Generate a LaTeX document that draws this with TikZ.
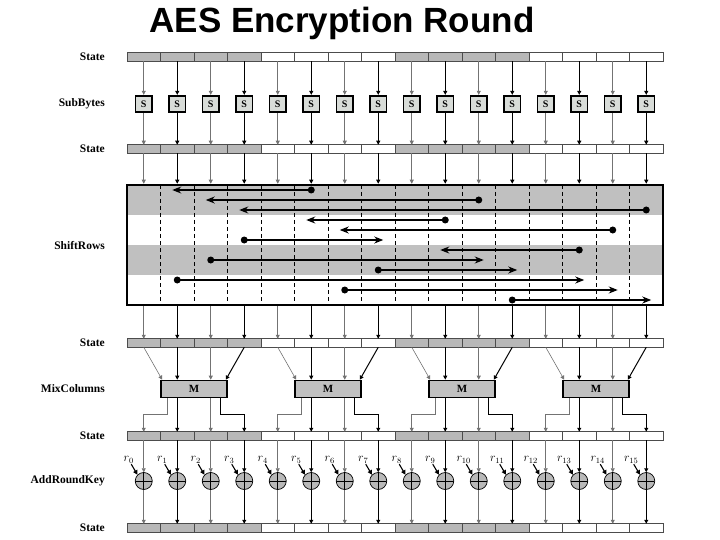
\documentclass[tikz,border=0pt]{standalone}
\usepackage{fontspec}
\setmainfont{Liberation Serif}
\newfontfamily\titlefont{Liberation Sans}
\usetikzlibrary{arrows.meta}

\definecolor{cellgray}{HTML}{B8B8B8}
\definecolor{sboxgray}{HTML}{D8DCD8}
\definecolor{boxgray}{HTML}{C0C0C0}

% one row of 16 state bytes: name, y
\newcommand{\statebar}[2]{%
  \foreach \i in {0,...,15}{
    \pgfmathtruncatemacro{\grp}{mod(int(\i/4),2)}
    \ifnum\grp=0 \def\cellfill{cellgray}\else\def\cellfill{white}\fi
    \node[cell, fill=\cellfill] (#1-\i) at ({143.75+33.5*\i},#2) {};
  }%
}

\begin{document}
\begin{tikzpicture}[
    x=1pt, y=-1pt,
    cell/.style={draw=black!70, line width=0.6pt, minimum width=33.5pt, minimum height=8.5pt, inner sep=0pt, outer sep=0pt},
    lbl/.style={font=\bfseries\fontsize{11.5}{11.5}\selectfont, anchor=east, inner sep=0pt},
    sbox/.style={draw, line width=1.8pt, fill=sboxgray, minimum size=16.5pt, inner sep=0pt, font=\bfseries\fontsize{10}{10}\selectfont},
    mbox/.style={draw, line width=1.6pt, fill=boxgray, minimum width=66pt, minimum height=17pt, inner sep=0pt, font=\bfseries\fontsize{11}{11}\selectfont},
    xorc/.style={circle, draw, line width=0.7pt, fill=cellgray, minimum size=17pt, inner sep=0pt,
        path picture={\draw[line width=0.7pt] (path picture bounding box.north) -- (path picture bounding box.south)
                       (path picture bounding box.west) -- (path picture bounding box.east);}},
    keylbl/.style={font=\fontsize{12}{12}\selectfont, inner sep=0.5pt},
    vthin/.style={-{Triangle[length=4pt,width=4pt]}, line width=0.6pt, black!55},
    vthick/.style={-{Triangle[length=4pt,width=4pt]}, line width=1pt, black},
    keyarr/.style={-{Triangle[length=4.5pt,width=4.5pt]}, line width=1.1pt},
    shiftarr/.style={-{Stealth[length=9pt,width=7pt]}, line width=1.4pt, shorten >=-5pt},
    srcdot/.style={circle, fill, inner sep=0pt, minimum size=7pt},
    stripe/.style={fill=boxgray},
    colsep/.style={line width=0.6pt, dash pattern=on 4pt off 3pt}
]
\useasboundingbox (0,0) rectangle (720,540);

% title
\node[font=\titlefont\bfseries\fontsize{35}{35}\selectfont] (title) at (342,23) {AES Encryption Round};

% row labels
\node[lbl] (lst1) at (105,57) {State};
\node[lbl] (lsub) at (105,104) {SubBytes};
\node[lbl] (lst2) at (105,149) {State};
\node[lbl] (lshift) at (105,246) {ShiftRows};
\node[lbl] (lst3) at (105,343) {State};
\node[lbl] (lmix) at (105,389) {MixColumns};
\node[lbl] (lst4) at (105,436) {State};
\node[lbl] (ladd) at (105,481) {AddRoundKey};
\node[lbl] (lst5) at (105,528) {State};

% state rows
\statebar{st1}{57}
\statebar{st2}{149}
\statebar{st3}{343}
\statebar{st4}{436}
\statebar{st5}{528}

% SubBytes
\foreach \i in {0,...,15}{
  \ifodd\i \def\vs{vthick}\else\def\vs{vthin}\fi
  \node[sbox] (sb-\i) at ({143.75+33.5*\i},104) {S};
  \draw[\vs] (st1-\i.south) -- (sb-\i.north);
  \draw[\vs] (sb-\i.south) -- (st2-\i.north);
}

% ShiftRows
\fill[stripe] (127,185) rectangle (663,215);
\fill[stripe] (127,245) rectangle (663,275);
\foreach \k in {1,...,15}
  \draw[colsep] ({127+33.5*\k},185) -- ({127+33.5*\k},305);
\node[draw, line width=2.5pt, minimum width=536pt, minimum height=120pt, inner sep=0pt] (srbox) at (395,245) {};
\foreach \i in {0,...,15}{
  \ifodd\i \def\vs{vthick}\else\def\vs{vthin}\fi
  \draw[\vs] (st2-\i.south) -- (st2-\i.south |- srbox.north);
  \draw[\vs] (st2-\i.south |- srbox.south) -- (st3-\i.north);
}
\foreach \s/\d/\y [count=\n] in {5/1/190, 10/2/200, 15/3/210, 9/5/220, 14/6/230, 3/7/240,
                                 13/9/250, 2/10/260, 7/11/270, 1/13/280, 6/14/290, 11/15/300}{
  \node[srcdot] (dot\n) at ({143.75+33.5*\s},\y) {};
  \coordinate (tgt\n) at ({143.75+33.5*\d},\y);
  \draw[shiftarr] (dot\n.center) -- (tgt\n);
}

% MixColumns
\foreach \m in {0,...,3}{
  \pgfmathtruncatemacro{\ja}{4*\m}
  \pgfmathtruncatemacro{\jb}{4*\m+1}
  \pgfmathtruncatemacro{\jc}{4*\m+2}
  \pgfmathtruncatemacro{\jd}{4*\m+3}
  \node[mbox] (mc\m) at ({194+134*\m},389) {M};
  \draw[vthin] (st3-\ja.south) -- ([xshift=2pt]mc\m.north west);
  \draw[vthick] (st3-\jb.south) -- (st3-\jb.south |- mc\m.north);
  \draw[vthin] (st3-\jc.south) -- (st3-\jc.south |- mc\m.north);
  \draw[vthick] (st3-\jd.south) -- ([xshift=-2pt]mc\m.north east);
  \draw[vthin] ([xshift=7pt]mc\m.south west) -- ++(0,16) -| (st4-\ja.north);
  \draw[vthick] (mc\m.south -| st4-\jb) -- (st4-\jb.north);
  \draw[vthin] (mc\m.south -| st4-\jc) -- (st4-\jc.north);
  \draw[vthick] ([xshift=-7pt]mc\m.south east) -- ++(0,16) -| (st4-\jd.north);
}

% AddRoundKey
\foreach \i in {0,...,15}{
  \ifodd\i \def\vs{vthick}\else\def\vs{vthin}\fi
  \draw[\vs] (st4-\i.south) -- ++(0,32);
  \node[xorc] (x-\i) at ({143.75+33.5*\i},481) {};
  \node[keylbl] (r-\i) at ({143.75+33.5*\i-15},460) {$r_{\i}$};
  \draw[keyarr] (r-\i) -- (x-\i.north west);
  \draw[\vs] (x-\i.south) -- (st5-\i.north);
}

\end{tikzpicture}
\end{document}
